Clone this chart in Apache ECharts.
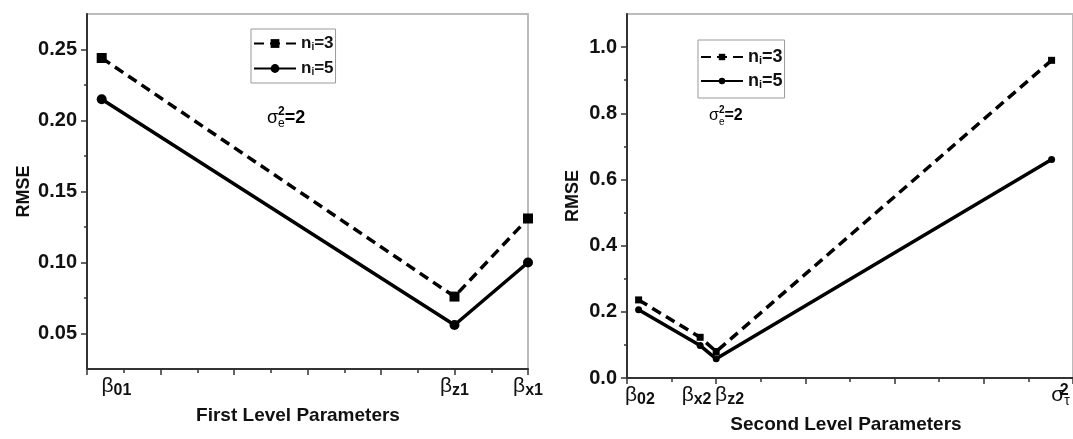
<!DOCTYPE html>
<html><head><meta charset="utf-8">
<script src="https://cdn.jsdelivr.net/npm/echarts@6/dist/echarts.min.js"></script>
<style>html,body{margin:0;padding:0;background:#fff}#c{width:1073px;height:439px}</style>
</head><body><div id="c"></div>
<script>
// ---- data ----
var firstParams = ['β_01', 'β_z1', 'β_x1'];
var firstX = [0.2, 5, 6];
var firstN3 = [0.244, 0.076, 0.131];
var firstN5 = [0.215, 0.056, 0.100];
var firstLabelX = [0.4, 5, 6];
var firstYTicks = [0.05, 0.10, 0.15, 0.20, 0.25];
var firstYMinor = [0.075, 0.125, 0.175, 0.225];

var secondParams = ['β_02', 'β_x2', 'β_z2', 'σ_τ^2'];
var secondX = [0.13, 0.82, 1.0, 4.76];
var secondN3 = [0.236, 0.123, 0.080, 0.960];
var secondN5 = [0.206, 0.098, 0.058, 0.660];
var secondLabelX = [0.145, 0.78, 1.15, 4.86];
var secondYTicks = [0, 0.2, 0.4, 0.6, 0.8, 1.0];
var secondYMinor = [0.1, 0.3, 0.5, 0.7, 0.9];

var seriesNames = { L3: 'n_i=3', L5: 'n_i=5', R3: 'n_i=3', R5: 'n_i=5' };

// ---- helpers ----
var FONT = 'Liberation Sans';
function zip(a, b) { return a.map(function (v, i) { return [v, b[i]]; }); }
function richParam(s) {
  if (s.indexOf('^') >= 0) {
    var m = s.split(/[_^]/);
    return '{g|' + m[0] + '}{sp|' + m[2] + '}{sb|' + m[1] + '}';
  }
  var p = s.split('_');
  return '{g|' + p[0] + '}{s|' + p[1] + '}';
}
function legendText(name) {
  var t = seriesNames[name]; var p = t.split('_'); var q = p[1].split('=');
  return '{n|' + p[0] + '}{i|' + q[0] + '}{n|=' + q[1] + '}';
}
var paramRich = {
  g: { fontFamily: FONT, fontSize: 21, color: '#111', lineHeight: 25, verticalAlign: 'middle' },
  s: { fontFamily: FONT, fontSize: 16, fontWeight: 'bold', color: '#111', verticalAlign: 'bottom', lineHeight: 16 },
  sp: { fontFamily: FONT, fontSize: 16, fontWeight: 'bold', color: '#111', verticalAlign: 'top', width: 0, lineHeight: 14 },
  sb: { fontFamily: FONT, fontSize: 14, color: '#111', verticalAlign: 'bottom', lineHeight: 12 }
};
function legendRich(fs) {
  return {
    n: { fontFamily: FONT, fontSize: fs, fontWeight: 'bold', color: '#111' },
    i: { fontFamily: FONT, fontSize: Math.round(fs * 0.6), fontWeight: 'bold', color: '#111', verticalAlign: 'bottom' }
  };
}
function sigmaRich(fs) {
  return {
    g: { fontFamily: FONT, fontSize: fs, color: '#111', verticalAlign: 'middle', lineHeight: fs + 6 },
    sp: { fontFamily: FONT, fontSize: Math.round(fs * 0.65), fontWeight: 'bold', color: '#111', verticalAlign: 'top', width: 0, lineHeight: 10 },
    sb: { fontFamily: FONT, fontSize: Math.round(fs * 0.65), color: '#111', verticalAlign: 'bottom', lineHeight: 10 },
    t: { fontFamily: FONT, fontSize: fs, fontWeight: 'bold', color: '#111', verticalAlign: 'middle', lineHeight: fs + 6 }
  };
}

var AX = '#333';
function xAxisMain(grid, max, labelX, params, nameText, namePad) {
  return {
    type: 'value', gridIndex: grid, min: 0, max: max, interval: 1,
    axisLine: { show: true, onZero: false, lineStyle: { color: AX, width: 2 } },
    axisTick: { show: true, length: 6, lineStyle: { color: AX, width: 1.5 } },
    minorTick: { show: true, splitNumber: 2, length: 4, lineStyle: { color: AX, width: 1.5 } },
    splitLine: { show: false },
    axisLabel: {
      customValues: labelX, margin: 5,
      formatter: function (v) { var k = labelX.indexOf(v); return k >= 0 ? richParam(params[k]) : ''; },
      rich: paramRich
    },
    name: nameText, nameLocation: 'middle', nameGap: 37,
    nameTextStyle: { fontFamily: FONT, fontSize: 19, fontWeight: 'bold', color: '#111', padding: [0, namePad, 0, 0] }
  };
}
function yAxisMain(grid, min, max, ticks, digits, gap) {
  return {
    type: 'value', gridIndex: grid, min: min, max: max,
    axisLine: { show: true, onZero: false, lineStyle: { color: AX, width: 2 } },
    axisTick: { show: true, length: 6, customValues: ticks, lineStyle: { color: AX, width: 1.5 } },
    splitLine: { show: false },
    axisLabel: {
      customValues: ticks, margin: 10,
      fontFamily: FONT, fontSize: 20, fontWeight: 'bold', color: '#111',
      formatter: function (v) { return Number(v).toFixed(digits); }
    },
    name: 'RMSE', nameLocation: 'middle', nameGap: gap, nameRotate: 90,
    nameTextStyle: { fontFamily: FONT, fontSize: 18, fontWeight: 'bold', color: '#111' }
  };
}
function yAxisMinor(grid, min, max, ticks) {
  return {
    type: 'value', gridIndex: grid, min: min, max: max, position: 'left',
    axisLine: { show: false },
    axisTick: { show: true, length: 3, customValues: ticks, lineStyle: { color: AX, width: 1.5 } },
    axisLabel: { show: false }, splitLine: { show: false }
  };
}
function lineSeries(name, xi, yi, xs, ys, symbol, size, dashed) {
  return {
    name: name, type: 'line', xAxisIndex: xi, yAxisIndex: yi, data: zip(xs, ys),
    symbol: symbol, symbolSize: size, showSymbol: true,
    lineStyle: { color: '#000', width: 3.5, type: dashed ? [10, 6] : 'solid' },
    itemStyle: { color: '#000' }, z: 3, animation: false
  };
}

var chart = echarts.init(document.getElementById('c'), null, { renderer: 'canvas' });
chart.setOption({
  backgroundColor: '#fff',
  animation: false,
  grid: [
    { left: 87, top: 14, width: 441, height: 355, show: true, borderColor: '#bbb', borderWidth: 2, backgroundColor: 'transparent' },
    { left: 627, top: 14, width: 458, height: 365, show: true, borderColor: '#bbb', borderWidth: 2, backgroundColor: 'transparent' }
  ],
  xAxis: [
    xAxisMain(0, 6, firstLabelX, firstParams, 'First Level Parameters', 19),
    xAxisMain(1, 5, secondLabelX, secondParams, 'Second Level Parameters', 8)
  ],
  yAxis: [
    yAxisMain(0, 0.025, 0.275, firstYTicks, 2, 54),
    yAxisMain(1, 0, 1.1, secondYTicks, 1, 45),
    yAxisMinor(0, 0.025, 0.275, firstYMinor),
    yAxisMinor(1, 0, 1.1, secondYMinor)
  ],
  legend: [
    {
      data: ['L3', 'L5'], orient: 'vertical', left: 251, top: 29,
      borderColor: '#999', borderWidth: 1, borderRadius: 0, padding: [6, 2, 6, 2],
      itemWidth: 42, itemHeight: 11, itemGap: 8, selectedMode: false,
      formatter: legendText, textStyle: { rich: legendRich(17) }
    },
    {
      data: ['R3', 'R5'], orient: 'vertical', left: 698, top: 40,
      borderColor: '#999', borderWidth: 1, borderRadius: 0, padding: [8, 2, 8, 2],
      itemWidth: 42, itemHeight: 8, itemGap: 6, selectedMode: false,
      formatter: legendText, textStyle: { rich: legendRich(18) }
    }
  ],
  graphic: [
    { type: 'text', left: 267, top: 106, style: { text: '{g|σ}{sp|2}{sb|e}{t|=2}', rich: sigmaRich(18) } },
    { type: 'text', left: 709, top: 105, style: { text: '{g|σ}{sp|2}{sb|e}{t|=2}', rich: sigmaRich(16) } }
  ],
  series: [
    lineSeries('L3', 0, 0, firstX, firstN3, 'rect', 10, true),
    lineSeries('L5', 0, 0, firstX, firstN5, 'circle', 10, false),
    lineSeries('R3', 1, 1, secondX, secondN3, 'rect', 7, true),
    lineSeries('R5', 1, 1, secondX, secondN5, 'circle', 7, false)
  ]
});
</script></body></html>
